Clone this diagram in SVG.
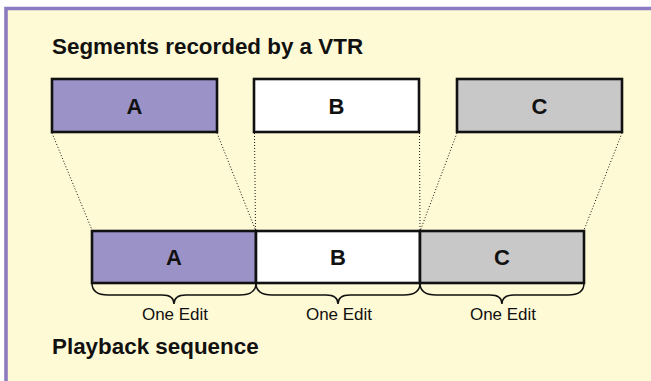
<svg xmlns="http://www.w3.org/2000/svg" width="651" height="381" viewBox="0 0 651 381">
  <style>
    .title { font-family: "Liberation Sans", Arial, sans-serif; font-size: 22.4px; font-weight: bold; fill: #111; }
    .label { font-family: "Liberation Sans", Arial, sans-serif; font-size: 22px; font-weight: bold; fill: #111; text-anchor: middle; }
    .edit { font-family: "Liberation Sans", Arial, sans-serif; font-size: 17px; fill: #111; text-anchor: middle; }
    .seg { stroke: #111; stroke-width: 2.6; }
    .a { fill: #9B93C8; }
    .b { fill: #FFFFFF; }
    .c { fill: #C8C8C8; }
    .guide { stroke: #111; stroke-width: 1; stroke-dasharray: 1 2; fill: none; }
    .brace { stroke: #111; stroke-width: 1.5; fill: none; }
  </style>

  <!-- panel background and frame -->
  <rect x="0" y="0" width="651" height="381" fill="#FFFFFF"/>
  <rect x="6" y="8" width="645" height="373" fill="#FFFAD6"/>
  <polyline points="6,381 6,8.5 651,8.5" fill="none" stroke="#8C7BC0" stroke-width="3.6"/>

  <text class="title" x="52" y="54">Segments recorded by a VTR</text>
  <text class="title" x="52" y="354">Playback sequence</text>

  <!-- recorded segments -->
  <g id="rec-a">
    <rect class="seg a" x="52" y="79" width="165" height="53"/>
    <text class="label" x="134.5" y="114">A</text>
  </g>
  <g id="rec-b">
    <rect class="seg b" x="254" y="79" width="165" height="53"/>
    <text class="label" x="336.5" y="114">B</text>
  </g>
  <g id="rec-c">
    <rect class="seg c" x="457" y="79" width="165" height="53"/>
    <text class="label" x="539.5" y="114">C</text>
  </g>

  <!-- playback sequence -->
  <g id="play-a">
    <rect class="seg a" x="92" y="231" width="164" height="52"/>
    <text class="label" x="174" y="265">A</text>
  </g>
  <g id="play-b">
    <rect class="seg b" x="256" y="231" width="164" height="52"/>
    <text class="label" x="338" y="265">B</text>
  </g>
  <g id="play-c">
    <rect class="seg c" x="420" y="231" width="164" height="52"/>
    <text class="label" x="502" y="265">C</text>
  </g>

  <!-- dotted projection lines -->
  <g id="connectors">
    <line class="guide" x1="52" y1="133" x2="92" y2="230"/>
    <line class="guide" x1="217" y1="133" x2="255.5" y2="230"/>
    <line class="guide" x1="254.5" y1="133" x2="255.5" y2="230"/>
    <line class="guide" x1="419.5" y1="133" x2="420" y2="230"/>
    <line class="guide" x1="457" y1="133" x2="420.5" y2="230"/>
    <line class="guide" x1="622" y1="133" x2="584" y2="230"/>
  </g>

  <!-- braces marking each edit -->
  <g id="edits">
    <path class="brace" d="M92,283 Q92,295 108,295 L162,295 Q174,295 174,304 Q174,295 186,295 L240,295 Q256,295 256,283"/>
    <path class="brace" d="M256,283 Q256,295 272,295 L326,295 Q338,295 338,304 Q338,295 350,295 L404,295 Q420,295 420,283"/>
    <path class="brace" d="M420,283 Q420,295 436,295 L490,295 Q502,295 502,304 Q502,295 514,295 L568,295 Q584,295 584,283"/>
    <text class="edit" x="175" y="320">One Edit</text>
    <text class="edit" x="339" y="320">One Edit</text>
    <text class="edit" x="503" y="320">One Edit</text>
  </g>
</svg>
